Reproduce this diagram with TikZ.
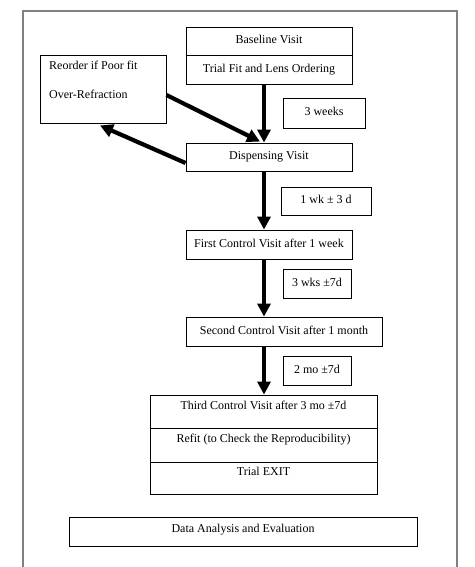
\documentclass[tikz,border=0pt]{standalone}
\usepackage{fontspec}
\setmainfont{Liberation Serif}
\usetikzlibrary{arrows.meta, calc}

\begin{document}
\begin{tikzpicture}[
  x = 1pt, y = -1pt,
  font = \fontsize{12}{14}\selectfont,
  > = {Triangle[length=13pt, width=13pt]},
  thick arrow/.style = {->, line width=4.2pt},
  box/.style = {draw, line width=0.9pt, inner sep=0pt, minimum height=28pt,
                text height=9pt, text depth=3.5pt},
  upper/.style = {text depth=13.5pt}
]
  \useasboundingbox (0,0) rectangle (474,567);
  \draw[gray, line width=1.3pt] (23,567) -- (23,11) -- (457,11) -- (457,567);
  \coordinate (spine) at (264,0);

  % visits
  \node[box, minimum width=166pt] (base) at (269,41) {Baseline Visit};
  \node[box, minimum width=166pt, minimum height=29pt] (trial) at (269,69.5) {Trial Fit and Lens Ordering};
  \node[box, minimum width=166pt] (disp) at (269,157) {Dispensing Visit};
  \node[box, minimum width=166pt, minimum height=29pt] (first) at (269,244.5) {First Control Visit after 1 week};
  \node[box, minimum width=196pt, minimum height=29pt] (second) at (284,331.5) {Second Control Visit after 1 month};
  \node[box, upper, minimum width=227pt, minimum height=33pt] (third) at (263.5,411.5) {Third Control Visit after 3 mo ±7d};
  \node[box, upper, minimum width=227pt, minimum height=34pt] (refit) at (263.5,445) {Refit (to Check the Reproducibility)};
  \node[box, upper, minimum width=227pt, minimum height=32pt] (exit) at (263.5,478) {Trial EXIT};
  \node[box, text depth=8pt, minimum width=348pt, minimum height=29pt] (data) at (243,531.5) {Data Analysis and Evaluation};

  % refit loop
  \node[box, minimum width=126pt, minimum height=68pt] (reorder) at (103,89) {};
  \node[anchor=west, inner sep=0pt] (reorderA) at (49,65) {Reorder if Poor fit};
  \node[anchor=west, inner sep=0pt] (reorderB) at (49,94) {Over-Refraction};

  % intervals
  \node[box, minimum width=82pt, minimum height=30pt] (weeks3) at (324,113) {3 weeks};
  \node[box, minimum width=90pt] (wk1) at (326,201) {1 wk ± 3 d};
  \node[box, minimum width=68pt, minimum height=29pt] (wks3) at (317,283.5) {3 wks ±7d};
  \node[box, minimum width=68pt, minimum height=29pt] (mo2) at (317,370.5) {2 mo ±7d};

  \draw[thick arrow] (trial.south -| spine) -- (disp.north -| spine);
  \draw[thick arrow] (disp.south -| spine) -- (first.north -| spine);
  \draw[thick arrow] (first.south -| spine) -- (second.north -| spine);
  \draw[thick arrow] (second.south -| spine) -- (third.north -| spine);
  \draw[thick arrow] ([yshift=-6pt]reorder.east) -- ([xshift=-9pt,yshift=1pt]disp.north);
  \draw[thick arrow] ([yshift=-6pt]disp.west) -- ([xshift=-3pt,yshift=-2pt]reorder.south);
\end{tikzpicture}
\end{document}
